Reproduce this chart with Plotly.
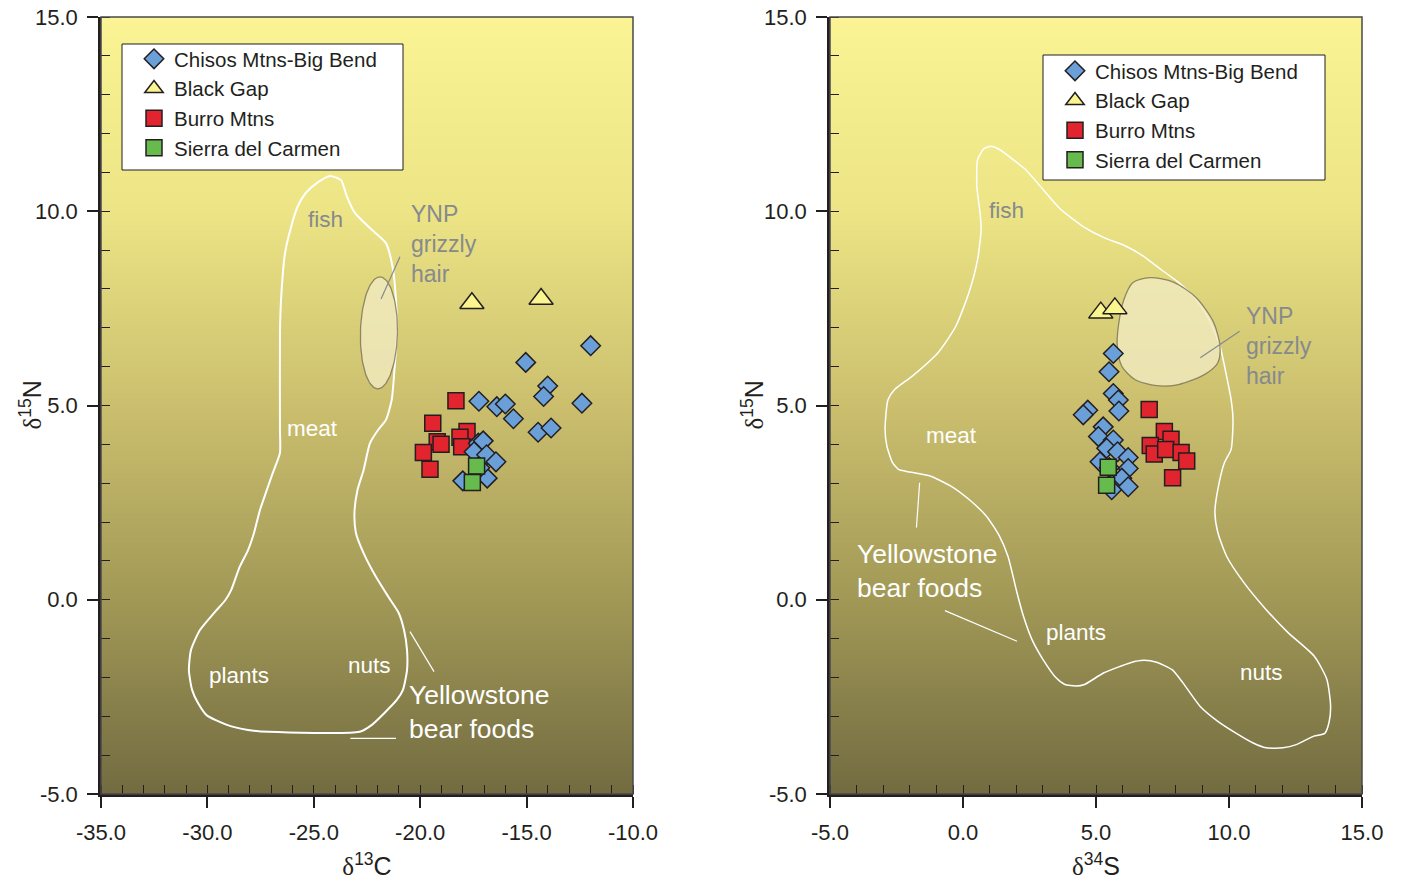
import numpy as np
import plotly.graph_objects as go

# ---------------- data ----------------
# Chisos Mtns-Big Bend
chisos_c13 = [-11.99, -15.04, -14.01, -14.20, -12.40, -17.24, -16.40, -16.00, -15.62, -14.46,
              -13.85, -17.27, -17.04, -17.47, -16.88, -16.44, -16.85, -18.00, -17.20]
chisos_n15_c = [6.54, 6.11, 5.50, 5.23, 5.06, 5.11, 4.97, 5.04, 4.66, 4.31,
                4.42, 4.03, 4.09, 3.81, 3.73, 3.55, 3.13, 3.06, 3.40]
chisos_s34 = [5.65, 5.49, 5.65, 5.84, 5.86, 4.69, 4.52, 5.27, 5.09, 5.65,
              5.40, 5.81, 6.21, 5.15, 6.21, 5.97, 6.21, 5.59, 5.50]
chisos_n15_s = [6.34, 5.87, 5.31, 5.14, 4.86, 4.88, 4.76, 4.45, 4.20, 4.11,
                3.90, 3.81, 3.66, 3.55, 3.38, 3.13, 2.91, 2.83, 3.40]

# Black Gap
blackgap_c13 = [-17.57, -14.32]
blackgap_n15_c = [7.63, 7.74]
blackgap_s34 = [5.18, 5.71]
blackgap_n15_s = [7.39, 7.50]

# Burro Mtns
burro_c13 = [-18.32, -19.41, -17.80, -19.20, -19.02, -18.13, -18.05, -19.85, -19.54]
burro_n15_c = [5.12, 4.54, 4.33, 4.07, 4.00, 4.18, 3.94, 3.79, 3.36]
burro_s34 = [7.00, 7.57, 7.82, 7.04, 7.19, 7.62, 8.20, 8.41, 7.88]
burro_n15_s = [4.90, 4.33, 4.13, 3.97, 3.75, 3.87, 3.79, 3.57, 3.14]

# Sierra del Carmen
carmen_c13 = [-17.35, -17.55]
carmen_n15_c = [3.44, 3.02]
carmen_s34 = [5.46, 5.40]
carmen_n15_s = [3.41, 2.95]

# axis ticks
c13_ticks = [-35, -30, -25, -20, -15, -10]
c13_labels = ["-35.0", "-30.0", "-25.0", "-20.0", "-15.0", "-10.0"]
s34_ticks = [-5, 0, 5, 10, 15]
s34_labels = ["-5.0", "0.0", "5.0", "10.0", "15.0"]
n15_ticks = [-5, 0, 5, 10, 15]
n15_labels = ["-5.0", "0.0", "5.0", "10.0", "15.0"]

# Yellowstone bear foods envelope, delta13C vs delta15N
foods_c_x = [-24.24, -23.72, -23.44, -23.06, -22.27, -21.61, -21.30, -21.14, -21.10, -21.20,
             -21.34, -21.61, -21.98, -22.36, -22.66, -22.95, -23.09, -23.02, -22.66, -22.08,
             -21.49, -21.01, -20.76, -20.62, -20.62, -20.81, -21.10, -21.69, -22.27, -22.85,
             -27.12, -28.09, -29.08, -30.04, -30.44, -30.72, -30.87, -30.77, -30.35, -29.64,
             -29.17, -28.89, -28.48, -28.09, -27.81, -27.53, -27.32, -26.93, -26.59, -26.59,
             -26.59, -26.54, -26.35, -26.07, -25.77, -25.38, -24.80, -24.24]
foods_c_y = [10.91, 10.80, 10.37, 9.95, 9.52, 9.18, 8.57, 7.72, 6.87, 5.99,
             5.14, 4.63, 4.37, 4.03, 3.34, 2.82, 2.23, 1.72, 1.20, 0.59,
             0.07, -0.34, -0.78, -1.29, -1.81, -2.32, -2.58, -2.92, -3.22, -3.40,
             -3.40, -3.35, -3.22, -2.97, -2.66, -2.32, -1.81, -1.29, -0.78, -0.31,
             -0.02, 0.24, 0.85, 1.28, 1.72, 2.31, 2.65, 3.26, 3.78, 4.37,
             6.87, 7.72, 8.93, 9.59, 10.11, 10.47, 10.75, 10.91]

# Yellowstone bear foods envelope, delta34S vs delta15N
foods_s_x = [1.04, 1.37, 2.03, 2.36, 3.01, 3.67, 4.49, 5.30, 6.13, 6.79,
             7.44, 8.10, 8.76, 9.25, 9.66, 9.91, 10.08, 10.15, 10.08, 9.83,
             9.58, 9.47, 9.58, 9.91, 10.56, 11.39, 12.21, 13.20, 13.68, 13.82,
             13.76, 13.60, 13.19, 12.53, 12.03, 11.39, 10.89, 10.23, 9.58, 8.91,
             8.27, 7.86, 7.28, 6.79, 6.30, 5.30, 4.57, 4.25, 3.83, 3.50,
             3.01, 2.59, 2.27, 2.03, 1.69, 1.37, 0.88, 0.23, -0.44, -1.26,
             -2.16, -2.41, -2.65, -2.86, -2.93, -2.82, -2.57, -1.92, -0.94, -0.27,
             0.23, 0.55, 0.68, 0.64, 0.52, 0.55, 0.79, 1.04]
foods_s_y = [11.67, 11.59, 11.25, 11.07, 10.56, 10.05, 9.62, 9.32, 9.10, 8.84,
             8.50, 8.17, 7.73, 7.21, 6.53, 5.75, 5.15, 4.64, 3.87, 3.53,
             2.84, 2.25, 1.73, 1.12, 0.44, -0.25, -0.84, -1.45, -2.05, -2.74,
             -3.16, -3.44, -3.51, -3.73, -3.81, -3.81, -3.68, -3.42, -3.13, -2.74,
             -2.14, -1.80, -1.61, -1.56, -1.62, -1.88, -2.18, -2.22, -2.18, -2.01,
             -1.54, -1.02, -0.42, 0.18, 1.12, 1.64, 2.15, 2.58, 2.92, 3.19,
             3.31, 3.35, 3.53, 3.95, 4.38, 5.15, 5.41, 5.75, 6.36, 7.04,
             7.92, 8.76, 9.53, 9.97, 10.64, 11.33, 11.61, 11.67]

# YNP grizzly hair range, delta34S vs delta15N
hair_s_x = [7.03, 7.93, 8.76, 9.42, 9.66, 9.58, 9.09, 8.10, 7.28, 6.46,
            5.97, 5.80, 5.84, 6.05, 6.38, 7.03]
hair_s_y = [8.29, 8.17, 7.78, 7.14, 6.53, 6.10, 5.80, 5.54, 5.51, 5.67,
            6.01, 6.53, 7.04, 7.73, 8.16, 8.29]

# YNP grizzly hair range, delta13C vs delta15N (ellipse centre and half-widths)
hair_c_centre = (-21.94, 6.87)
hair_c_radii = (0.87, 1.44)

# ---------------- styling ----------------
INK = "#231f20"
FONT = "Liberation Sans, Arial, Helvetica, sans-serif"
SERIF = "Liberation Serif, Times New Roman, serif"
BLUE = "#6a9fd8"
RED = "#e1242d"
GREEN = "#67bb4c"
YELLOW = "#faf58e"
GREY_TXT = "#868a8e"

bg_scale = [[0.0, "#726b41"], [0.25, "#a19856"], [0.5, "#cbbf6e"],
            [0.75, "#ece485"], [1.0, "#faf495"]]

fig = go.Figure()


def add_background(xr, xa, ya):
    ys = np.linspace(-5, 15, 241)
    z = np.repeat(ys[:, None], 2, axis=1)
    fig.add_trace(go.Heatmap(x=list(xr), y=ys, z=z, colorscale=bg_scale, zmin=-5, zmax=15,
                             zsmooth="best", showscale=False, hoverinfo="skip",
                             xaxis=xa, yaxis=ya))


add_background((-35, -10), "x", "y")
add_background((-5, 15), "x2", "y2")

# envelopes
fig.add_trace(go.Scatter(x=foods_c_x, y=foods_c_y, mode="lines",
                         line=dict(color="white", width=2, shape="spline", smoothing=0.6),
                         hoverinfo="skip", showlegend=False, xaxis="x", yaxis="y"))
fig.add_trace(go.Scatter(x=foods_s_x, y=foods_s_y, mode="lines",
                         line=dict(color="white", width=1.5, shape="spline", smoothing=0.6),
                         hoverinfo="skip", showlegend=False, xaxis="x2", yaxis="y2"))

t = np.linspace(0, 2 * np.pi, 120)
ell_x = hair_c_centre[0] + hair_c_radii[0] * np.cos(t) + 0.05 * np.sin(t)
ell_y = hair_c_centre[1] + hair_c_radii[1] * np.sin(t)
hair_fill = "rgba(240,234,192,0.82)"
hair_line = "rgba(120,114,84,0.8)"
fig.add_trace(go.Scatter(x=ell_x, y=ell_y, mode="lines", fill="toself", fillcolor=hair_fill,
                         line=dict(color=hair_line, width=1.3),
                         hoverinfo="skip", showlegend=False, xaxis="x", yaxis="y"))
fig.add_trace(go.Scatter(x=hair_s_x, y=hair_s_y, mode="lines", fill="toself", fillcolor=hair_fill,
                         line=dict(color=hair_line, width=1.3, shape="spline", smoothing=0.8),
                         hoverinfo="skip", showlegend=False, xaxis="x2", yaxis="y2"))

# leader lines
leaders = [
    ("x", "y", [-20.48, -19.35], [-0.82, -1.85], "white", 1.2),
    ("x", "y", [-23.28, -21.14], [-3.57, -3.57], "white", 1.2),
    ("x", "y", [-20.95, -21.84], [8.83, 7.74], GREY_TXT, 1.2),
    ("x2", "y2", [10.40, 8.92], [6.91, 6.23], GREY_TXT, 1.2),
    ("x2", "y2", [-1.63, -1.75], [3.01, 1.86], "white", 1.2),
    ("x2", "y2", [-0.68, 2.03], [-0.28, -1.07], "white", 1.2),
]
for xa, ya, lx, ly, col, w in leaders:
    fig.add_trace(go.Scatter(x=lx, y=ly, mode="lines", line=dict(color=col, width=w),
                             hoverinfo="skip", showlegend=False, xaxis=xa, yaxis=ya))

# sample groups
groups = [
    ("Burro Mtns", burro_c13, burro_n15_c, burro_s34, burro_n15_s, "square", 16, RED, 3),
    ("Chisos Mtns-Big Bend", chisos_c13, chisos_n15_c, chisos_s34, chisos_n15_s, "diamond", 15, BLUE, 1),
    ("Sierra del Carmen", carmen_c13, carmen_n15_c, carmen_s34, carmen_n15_s, "square", 16, GREEN, 4),
    ("Black Gap", blackgap_c13, blackgap_n15_c, blackgap_s34, blackgap_n15_s, "triangle-up", 21, YELLOW, 2),
]
for name, cx, cy, sx, sy, sym, size, col, rank in groups:
    mk = dict(symbol=sym, size=size, color=col, line=dict(color=INK, width=1.5))
    fig.add_trace(go.Scatter(x=cx, y=cy, mode="markers", name=name, marker=mk,
                             legend="legend", legendrank=rank, hoverinfo="skip",
                             xaxis="x", yaxis="y"))
    fig.add_trace(go.Scatter(x=sx, y=sy, mode="markers", name=name, marker=mk,
                             legend="legend2", legendrank=rank, hoverinfo="skip",
                             xaxis="x2", yaxis="y2"))

# ---------------- labels ----------------
ann = []


def label(text, x, y, xa, ya, color, size, align="center", xanchor="center"):
    ann.append(dict(text=text, x=x, y=y, xref=xa, yref=ya, showarrow=False,
                    font=dict(family=FONT, size=size, color=color),
                    align=align, xanchor=xanchor, yanchor="middle"))


label("fish", -24.43, 9.80, "x", "y", GREY_TXT, 22.5)
label("YNP<br>grizzly<br>hair", -20.53, 9.15, "x", "y", GREY_TXT, 23, "left", "left")
label("meat", -25.04, 4.40, "x", "y", "white", 22.5)
label("plants", -28.51, -1.96, "x", "y", "white", 22.5)
label("nuts", -22.36, -1.68, "x", "y", "white", 22.5)
label("Yellowstone<br>bear foods", -20.62, -2.89, "x", "y", "white", 26.5, "left", "left")

label("fish", 1.65, 10.03, "x2", "y2", GREY_TXT, 22.5)
label("YNP<br>grizzly<br>hair", 10.56, 6.52, "x2", "y2", GREY_TXT, 23, "left", "left")
label("meat", -0.45, 4.23, "x2", "y2", "white", 22.5)
label("Yellowstone<br>bear foods", -4.06, 0.75, "x2", "y2", "white", 26.5, "left", "left")
label("plants", 4.25, -0.84, "x2", "y2", "white", 22.5)
label("nuts", 11.24, -1.87, "x2", "y2", "white", 22.5)

# ---------------- axes ----------------
tickfont = dict(family=FONT, size=22, color=INK)
titlefont = dict(family=FONT, size=25, color=INK)


def iso_title(sup, el):
    return f"<span style='font-family:{SERIF}'>δ</span><sup>{sup}</sup>{el}"


def xaxis(domain, rng, vals, text, title, anchor):
    return dict(domain=domain, range=rng, anchor=anchor, automargin=False,
                tickmode="array", tickvals=vals, ticktext=text,
                ticks="outside", ticklen=11, tickwidth=1.5, tickcolor=INK,
                ticklabelstandoff=6, tickfont=tickfont,
                minor=dict(tickmode="linear", tick0=0, dtick=1, ticks="inside",
                           ticklen=9, tickwidth=1.2, tickcolor=INK, showgrid=False),
                showline=True, linecolor=INK, linewidth=2.5, showgrid=False, zeroline=False,
                title=dict(text=title, font=titlefont, standoff=14), fixedrange=True)


def yaxis(anchor):
    return dict(domain=[0, 1], range=[-5, 15], anchor=anchor, automargin=False,
                tickmode="array", tickvals=n15_ticks, ticktext=n15_labels,
                ticks="outside", ticklen=11, tickwidth=1.5, tickcolor=INK,
                ticklabelstandoff=5, tickfont=tickfont,
                minor=dict(tickmode="linear", tick0=0, dtick=1, ticks="inside",
                           ticklen=9, tickwidth=1.2, tickcolor=INK, showgrid=False),
                showline=True, linecolor=INK, linewidth=2.5, showgrid=False, zeroline=False,
                fixedrange=True)


plot_w = 1261
plot_h = 777
d1 = [0, 532 / plot_w]
d2 = [729 / plot_w, 1]

# vertical axis titles, set beside each panel
for xp in (-71 / plot_w, 651 / plot_w):
    ann.append(dict(text=iso_title(15, "N"), x=xp, y=0.5, xref="paper", yref="paper",
                    showarrow=False, textangle=-90, font=titlefont,
                    xanchor="center", yanchor="middle"))

legend_style = dict(bgcolor="rgba(0,0,0,0)", borderwidth=0,
                    font=dict(family=FONT, size=20.5, color=INK),
                    xanchor="left", yanchor="top", tracegroupgap=0,
                    itemsizing="trace", traceorder="normal")

fig.update_layout(
    width=1405, height=881,
    margin=dict(l=101, r=43, t=17, b=87, autoexpand=False),
    paper_bgcolor="white", plot_bgcolor="white",
    xaxis=xaxis(d1, [-35, -10], c13_ticks, c13_labels, iso_title(13, "C"), "y"),
    yaxis=yaxis("x"),
    xaxis2=xaxis(d2, [-5, 15], s34_ticks, s34_labels, iso_title(34, "S"), "y2"),
    yaxis2=yaxis("x2"),
    legend=legend_style | dict(x=33 / plot_w, y=1 - 22 / plot_h),
    legend2=legend_style | dict(x=954 / plot_w, y=1 - 34 / plot_h),
    annotations=ann,
    shapes=[
        dict(type="rect", xref="x domain", yref="y domain", x0=0, x1=1, y0=0, y1=1,
             line=dict(color="#4a4a4a", width=1.5), layer="above"),
        dict(type="rect", xref="x2 domain", yref="y2 domain", x0=0, x1=1, y0=0, y1=1,
             line=dict(color="#4a4a4a", width=1.5), layer="above"),
        # legend frames
        dict(type="rect", xref="paper", yref="paper",
             x0=21 / plot_w, x1=302 / plot_w, y0=1 - 153 / plot_h, y1=1 - 27 / plot_h,
             fillcolor="white", line=dict(color=INK, width=1), layer="above"),
        dict(type="rect", xref="paper", yref="paper",
             x0=942 / plot_w, x1=1224 / plot_w, y0=1 - 163 / plot_h, y1=1 - 38 / plot_h,
             fillcolor="white", line=dict(color=INK, width=1), layer="above"),
    ],
    showlegend=True,
)

fig.write_html("out.html")
